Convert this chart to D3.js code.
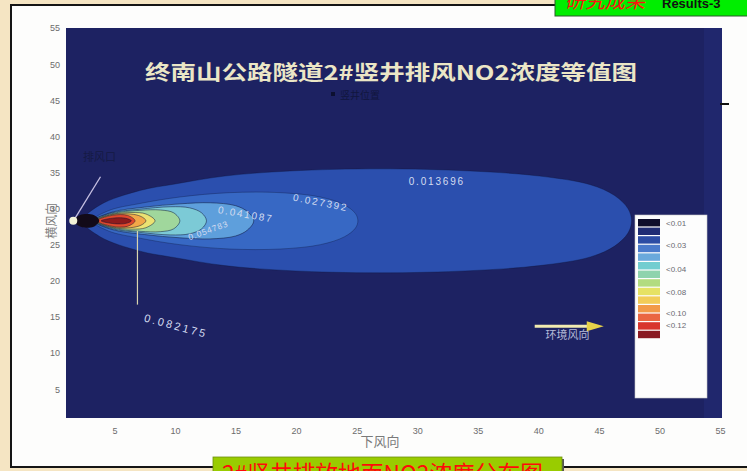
<!DOCTYPE html>
<html>
<head>
<meta charset="utf-8">
<script src="https://cdn.jsdelivr.net/npm/d3@7"></script>
<style>
  html, body { margin: 0; padding: 0; background: #f5e5c3; }
  svg { display: block; }
  .tick text { font-family: "Liberation Sans", Arial, sans-serif; }
</style>
</head>
<body>
<svg id="chart" width="747" height="471"></svg>
<script>
// ---- data ----
const xTicks = [5, 10, 15, 20, 25, 30, 35, 40, 45, 50, 55];
const yTicks = [5, 10, 15, 20, 25, 30, 35, 40, 45, 50, 55];

// plume axis (cross-wind position of the stack), in axis units
const plumeCenter = 28.3;

// filled contour levels, outermost first
const contourLevels = [0.013696, 0.027392, 0.041087, 0.054783, 0.068479, 0.082175, 0.095871, 0.109567, 0.123262];

// outline of each contour: down-wind positions and half-widths (axis units)
const contourX = [
  [2.4, 3.81, 7.11, 10.0, 14.1, 19.5, 26.9, 34.4, 40.1, 44.3, 46.3, 47.4, 47.7],
  [3.2, 4.5, 7.1, 10.4, 14.5, 18.7, 22.0, 24.0, 24.9, 25.1],
  [3.3, 4.8, 7.5, 10.4, 12.9, 15.0, 16.0, 16.5],
  [3.35, 4.8, 7.1, 9.6, 11.2, 12.2, 12.6],
  [3.4, 4.8, 7.1, 8.8, 9.9, 10.4],
  [3.45, 4.8, 6.45, 7.6, 8.35],
  [3.5, 4.8, 6.3, 7.2, 7.6],
  [3.55, 4.8, 6.1, 6.7],
  [3.9, 5.0, 5.95, 6.4]
];
const contourHalfWidth = [
  [0, 2.2, 4.2, 5.1, 6.2, 6.9, 7.2, 6.9, 6.2, 5.0, 3.5, 1.7, 0],
  [0, 1.4, 2.4, 3.3, 3.9, 3.9, 3.3, 2.2, 1.0, 0],
  [0, 1.2, 1.9, 2.35, 2.5, 2.1, 1.25, 0],
  [0, 1.1, 1.6, 1.95, 1.8, 1.1, 0],
  [0, 1.0, 1.45, 1.5, 1.1, 0],
  [0, 0.9, 1.15, 0.95, 0],
  [0, 0.85, 0.95, 0.6, 0],
  [0, 0.75, 0.75, 0],
  [0, 0.4, 0.35, 0]
];

// low-concentration pocket right at the shaft outlet (< 0.01)
const outletX = [1.66, 2.16, 2.9, 3.4, 3.75];
const outletHalfWidth = [0, 0.8, 0.95, 0.7, 0];
const outletPos = [1.6, 28.3];

// contour labels: value and where it sits (axis units)
const labelValues = ["0.013696", "0.027392", "0.041087", "0.054783", "0.082175"];
const labelX = [29.3, 19.7, 13.5, 11.2, 7.4];
const labelY = [33.3, 31.1, 29.4, 25.6, 14.4];

const legendLabels = ["<0.01", "<0.03", "<0.04", "<0.08", "<0.10", "<0.12"];

// ---- styles ----
const contourFill = ["#2b4fae", "#3768c4", "#5e9fdc", "#7ccad6", "#a0d79c", "#ebe272", "#f2a848", "#e0482c", "#8e1a1c"];
const legendColors = ["#0e0e2c", "#1f2c74", "#2c4ca4", "#4a7acb", "#6aa9dc", "#72cdd0", "#8fd3ad", "#b2dc80",
                      "#e6e264", "#f2cc58", "#f29a48", "#ea6642", "#d8352e", "#8a1a22"];
const legendLabelRow = [0, 2.6, 5.4, 8.0, 10.5, 11.9];

const svg = d3.select("#chart");
const W = 747, H = 471;

// page and slide frame
svg.append("rect").attr("width", W).attr("height", H).attr("fill", "#f5e5c3");
svg.append("rect").attr("x", 11).attr("y", 5).attr("width", 760).attr("height", 462)
  .attr("fill", "#fdfdfc").attr("stroke", "#151515").attr("stroke-width", 2);

// scales
const x = d3.scaleLinear().domain([1, 55]).range([66, 720]);
const y = d3.scaleLinear().domain([1, 55]).range([418, 28]);

// plot area
svg.append("rect")
  .attr("x", x(1)).attr("y", y(55)).attr("width", x(55) - x(1) + 2).attr("height", y(1) - y(55))
  .attr("fill", "#1d2262");
svg.append("rect")
  .attr("x", 704).attr("y", y(55)).attr("width", x(55) - 704 + 2).attr("height", y(1) - y(55))
  .attr("fill", "#232b74").attr("opacity", 0.6);

// closed outline through top points, right tip, bottom points, left tip
const outline = d3.line().curve(d3.curveCatmullRomClosed.alpha(0.5));
function plumePath(xs, hws) {
  const n = xs.length;
  const pts = [[x(xs[0]), y(plumeCenter)]];
  for (let i = 1; i < n - 1; i++) pts.push([x(xs[i]), y(plumeCenter + hws[i])]);
  pts.push([x(xs[n - 1]), y(plumeCenter)]);
  for (let i = n - 2; i >= 1; i--) pts.push([x(xs[i]), y(plumeCenter - hws[i])]);
  return outline(pts);
}

const plume = svg.append("g");
contourLevels.forEach((lv, i) => {
  plume.append("path")
    .attr("d", plumePath(contourX[i], contourHalfWidth[i]))
    .attr("fill", contourFill[i])
    .attr("stroke", "#0a1030")
    .attr("stroke-opacity", i < 2 ? 0.35 : 0.55)
    .attr("stroke-width", 0.9);
});
plume.append("path")
  .attr("d", plumePath(outletX, outletHalfWidth))
  .attr("fill", "#120a18");

// contour labels
const labelAngle = [0, 11, 10, -20, 15];
const labelSize = [10, 10, 10, 8.5, 11];
const labelSpacing = [1.8, 1.8, 1.8, 0.8, 2.4];
labelValues.forEach((t, i) => {
  svg.append("text")
    .attr("transform", `translate(${x(labelX[i])},${y(labelY[i])}) rotate(${labelAngle[i]})`)
    .attr("font-family", "Liberation Sans, Arial, sans-serif")
    .attr("font-size", labelSize[i])
    .attr("letter-spacing", labelSpacing[i])
    .attr("fill", "#d4dcf0")
    .text(t);
});
// leader for the 0.082175 label
svg.append("line")
  .attr("x1", x(6.9)).attr("x2", x(6.9))
  .attr("y1", y(plumeCenter - 1.4)).attr("y2", y(plumeCenter - 11.6))
  .attr("stroke", "#d9d4ad").attr("stroke-width", 1.2);

// shaft outlet marker and its note
svg.append("line")
  .attr("x1", x(outletPos[0]) + 2).attr("y1", y(outletPos[1]) - 3)
  .attr("x2", x(3.85)).attr("y2", y(34.4))
  .attr("stroke", "#c6c0e2").attr("stroke-width", 1.3);
svg.append("circle")
  .attr("cx", x(outletPos[0])).attr("cy", y(outletPos[1]))
  .attr("r", 4).attr("fill", "#f2f2d8");
svg.append("text")
  .attr("x", 83).attr("y", 161)
  .attr("font-family", "Noto Sans CJK SC, sans-serif").attr("font-size", 11)
  .attr("fill", "#151a44").text("排风口");

// title
svg.append("text")
  .attr("x", 145).attr("y", 80)
  .attr("textLength", 492).attr("lengthAdjust", "spacingAndGlyphs")
  .attr("font-family", "Noto Sans CJK SC, sans-serif").attr("font-weight", 700)
  .attr("font-size", 20).attr("fill", "#ebe6c6")
  .text("终南山公路隧道2#竖井排风NO2浓度等值图");
svg.append("rect").attr("x", 331).attr("y", 92).attr("width", 4).attr("height", 4).attr("fill", "#0c1030");
svg.append("text")
  .attr("x", 340).attr("y", 99)
  .attr("font-family", "Noto Sans CJK SC, sans-serif").attr("font-size", 10)
  .attr("fill", "#11163e").text("竖井位置");

// small tick at the right edge
svg.append("line").attr("x1", 720).attr("x2", 729).attr("y1", 104).attr("y2", 104)
  .attr("stroke", "#111").attr("stroke-width", 2);

// ambient wind arrow
const arrowY = 13.7;
svg.append("line")
  .attr("x1", x(39.7)).attr("x2", x(44.5)).attr("y1", y(arrowY)).attr("y2", y(arrowY))
  .attr("stroke", "#f1ebb0").attr("stroke-width", 3);
svg.append("path")
  .attr("d", `M${x(44.0)},${y(arrowY) - 5} L${x(45.4)},${y(arrowY)} L${x(44.0)},${y(arrowY) + 5} Z`)
  .attr("fill", "#e6d24a");
svg.append("text")
  .attr("x", x(42.4)).attr("y", 339).attr("text-anchor", "middle")
  .attr("font-family", "Noto Sans CJK SC, sans-serif").attr("font-size", 11)
  .attr("fill", "#b6bbd8").text("环境风向");

// legend
const lg = svg.append("g");
lg.append("rect").attr("x", 635).attr("y", 215).attr("width", 72).attr("height", 183)
  .attr("fill", "#fdfdfd").attr("stroke", "#c8c8c8").attr("stroke-width", 0.6);
const rowH = 8.6;
legendColors.forEach((c, i) => {
  lg.append("rect").attr("x", 638).attr("y", 219 + i * rowH)
    .attr("width", 22).attr("height", rowH - 1.2).attr("fill", c);
});
legendLabels.forEach((t, i) => {
  lg.append("text")
    .attr("x", 666).attr("y", 219 + legendLabelRow[i] * rowH + 7)
    .attr("font-family", "Liberation Sans, Arial, sans-serif").attr("font-size", 8)
    .attr("fill", "#6a6a72").text(t);
});

// axes
const xAxis = svg.append("g").attr("transform", `translate(0,${y(1)})`)
  .call(d3.axisBottom(x).tickValues(xTicks).tickSize(0).tickPadding(10));
const yAxis = svg.append("g").attr("transform", `translate(${x(1)},0)`)
  .call(d3.axisLeft(y).tickValues(yTicks).tickSize(0).tickPadding(6));
[xAxis, yAxis].forEach(a => {
  a.select(".domain").remove();
  a.selectAll("text").attr("font-size", 9).attr("fill", "#6c6c6c");
});

svg.append("text")
  .attr("x", 380).attr("y", 446).attr("text-anchor", "middle")
  .attr("font-family", "Noto Sans CJK SC, sans-serif").attr("font-size", 13)
  .attr("fill", "#7a7a7a").text("下风向");
svg.append("text")
  .attr("transform", `translate(56,${y(plumeCenter)}) rotate(-90)`)
  .attr("text-anchor", "middle")
  .attr("font-family", "Noto Sans CJK SC, sans-serif").attr("font-size", 12)
  .attr("fill", "#7a7a7a").text("横风向");

// slide header tag
svg.append("rect").attr("x", 555).attr("y", -3).attr("width", 200).attr("height", 19)
  .attr("fill", "#00ee00").attr("stroke", "#2c5a2c").attr("stroke-width", 1);
svg.append("text")
  .attr("x", 565).attr("y", 8)
  .attr("font-family", "Noto Sans CJK SC, sans-serif").attr("font-size", 20)
  .attr("font-style", "italic").attr("fill", "#ff1010").text("研究成果");
svg.append("text")
  .attr("x", 662).attr("y", 8)
  .attr("font-family", "Liberation Sans, Arial, sans-serif").attr("font-size", 13)
  .attr("font-weight", 700).attr("fill", "#111").text("Results-3");

// slide caption
svg.append("rect").attr("x", 215).attr("y", 459).attr("width", 349).attr("height", 20)
  .attr("fill", "#555");
svg.append("rect").attr("x", 213).attr("y", 457).attr("width", 349).attr("height", 20)
  .attr("fill", "#99cc00").attr("stroke", "#6d8f10").attr("stroke-width", 0.8);
svg.append("text")
  .attr("x", 222).attr("y", 482)
  .attr("textLength", 321).attr("lengthAdjust", "spacingAndGlyphs")
  .attr("font-family", "Noto Sans CJK SC, sans-serif").attr("font-size", 23)
  .attr("fill", "#ff0a0a").text("2#竖井排放地面NO2浓度分布图");
</script>
</body>
</html>
